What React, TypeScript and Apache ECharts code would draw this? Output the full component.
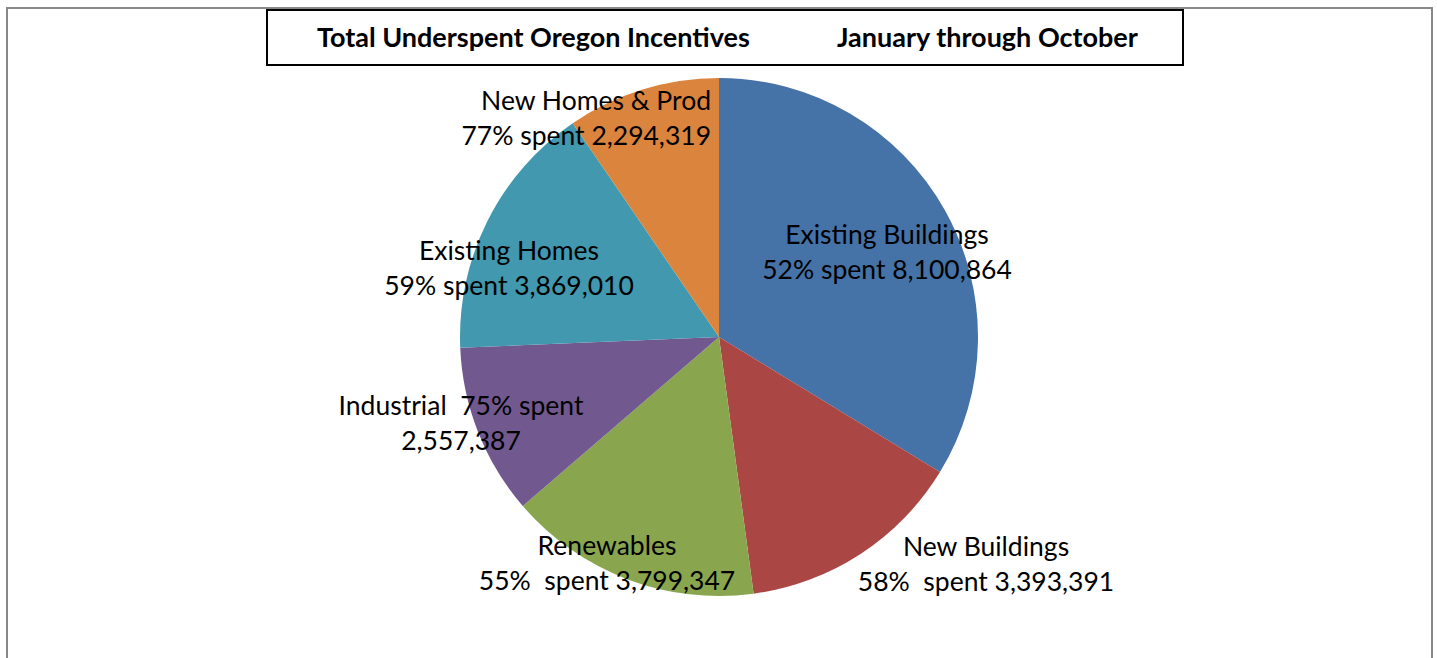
import React, { useEffect, useRef } from "react";
import * as echarts from "echarts";

const categories = [
  "Existing Buildings",
  "New Buildings",
  "Renewables",
  "Industrial",
  "Existing Homes",
  "New Homes & Prod",
];
const underspent = [8100864, 3393391, 3799347, 2557387, 3869010, 2294319];
const spentPct = [52, 58, 55, 75, 59, 77];
const labelTexts = [
  "Existing Buildings\n52% spent 8,100,864",
  "New Buildings\n58%  spent 3,393,391",
  "Renewables\n55%  spent 3,799,347",
  "Industrial  75% spent\n2,557,387",
  "Existing Homes\n59% spent 3,869,010",
  "New Homes & Prod\n77% spent 2,294,319",
];
const colors = ["#4572A7", "#AA4643", "#89A54E", "#71588F", "#4198AF", "#DB843D"];
const titleLeft = "Total Underspent Oregon Incentives";
const titleRight = "January through October";

// label anchor positions (layout only)
const labelPos: [number, number, string][] = [
  [887, 251, "center"],
  [986, 563, "center"],
  [607, 562, "center"],
  [461, 422, "center"],
  [509, 267, "center"],
  [711, 117, "right"],
];

const FONT = "Lato, 'Open Sans', sans-serif";

export default function App() {
  const ref = useRef<HTMLDivElement>(null);
  useEffect(() => {
    if (!ref.current) return;
    const chart = echarts.init(ref.current, undefined, { renderer: "svg" });
    chart.setOption({
      animation: false,
      backgroundColor: "#ffffff",
      title: [
        {
          text: titleLeft,
          left: 312,
          top: 18,
          textStyle: { fontFamily: FONT, fontSize: 27, fontWeight: "bold", color: "#000" },
        },
        {
          text: titleRight,
          left: 832,
          top: 18,
          textStyle: { fontFamily: FONT, fontSize: 27, fontWeight: "bold", color: "#000" },
        },
      ],
      graphic: [
        {
          type: "rect",
          shape: { x: 7, y: 8, width: 1425, height: 700 },
          style: { fill: "none", stroke: "#888888", lineWidth: 2 },
          silent: true,
          z: -10,
        },
        {
          type: "rect",
          shape: { x: 267, y: 10, width: 916, height: 55 },
          style: { fill: "#ffffff", stroke: "#000000", lineWidth: 2 },
          silent: true,
          z: -5,
        },
      ],
      series: [
        {
          type: "pie",
          center: [719, 337],
          radius: 259,
          startAngle: 90,
          clockwise: true,
          avoidLabelOverlap: false,
          itemStyle: { borderWidth: 0 },
          emphasis: { disabled: true },
          labelLine: { show: false },
          label: {
            show: true,
            position: "inside",
            fontFamily: FONT,
            fontSize: 26.5,
            lineHeight: 35,
            color: "#000",
            formatter: (p: any) => labelTexts[p.dataIndex],
          },
          labelLayout: (p: any) => {
            const lp = labelPos[p.dataIndex];
            return { x: lp[0], y: lp[1], align: lp[2], verticalAlign: "middle" };
          },
          data: categories.map((name, i) => ({
            name,
            value: underspent[i],
            spent: spentPct[i],
            itemStyle: { color: colors[i] },
            label: { align: labelPos[i][2] },
          })),
        },
      ],
    });
    return () => chart.dispose();
  }, []);
  return (
    <div
      ref={ref}
      style={{ position: "fixed", left: 0, top: 0, width: 1437, height: 658 }}
    />
  );
}
